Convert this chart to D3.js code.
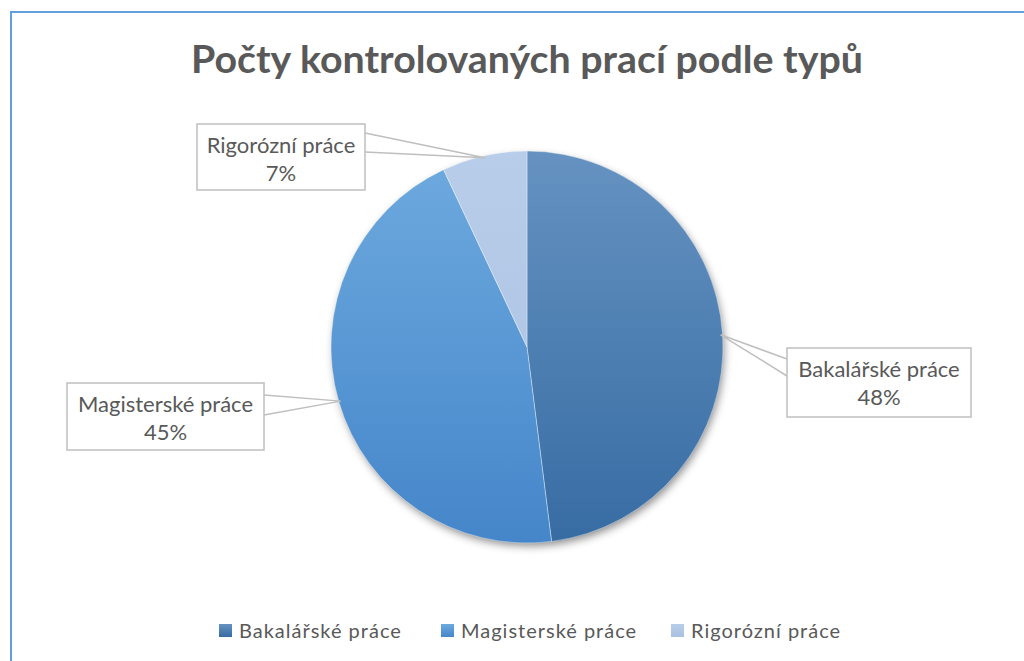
<!DOCTYPE html>
<html><head><meta charset="utf-8">
<script src="https://cdn.jsdelivr.net/npm/d3@7"></script>
<style>html,body{margin:0;padding:0;background:#fff;}svg{display:block;}</style>
</head><body>
<svg id="chart" width="1024" height="661"></svg>
<script>
const categories = ["Bakalářské práce", "Magisterské práce", "Rigorózní práce"];
const values = [48, 45, 7];
const colorsTop = ["#6592c1", "#6eaadf", "#b8cde9"];
const colorsBottom = ["#376ca3", "#4586ca", "#a9c1e2"];
const title = "Počty kontrolovaných prací podle typů";

const svg = d3.select("#chart");
const W = 1024, H = 661;
const defs = svg.append("defs");
svg.append("rect").attr("x", 0).attr("y", 0).attr("width", W).attr("height", H).attr("fill", "#fff");
svg.append("rect").attr("x", 11).attr("y", 12).attr("width", W + 10).attr("height", H + 10)
  .attr("fill", "none").attr("stroke", "#62a0db").attr("stroke-width", 2);

const font = "Lato, 'Open Sans', sans-serif";
svg.append("text").attr("x", 527).attr("y", 73).attr("text-anchor", "middle")
  .attr("font-family", font).attr("font-weight", "bold").attr("font-size", 38)
  .attr("textLength", 672).attr("lengthAdjust", "spacingAndGlyphs")
  .attr("fill", "#595959").text(title);

const cx = 527, cy = 347, R = 196;
const f = defs.append("filter").attr("id", "sh").attr("x", "-20%").attr("y", "-20%").attr("width", "140%").attr("height", "140%");
f.append("feDropShadow").attr("dx", 2).attr("dy", 4).attr("stdDeviation", 4).attr("flood-color", "#000").attr("flood-opacity", 0.45);

categories.forEach((c, i) => {
  const g = defs.append("linearGradient").attr("id", "g" + i).attr("gradientUnits", "userSpaceOnUse")
    .attr("x1", 0).attr("y1", -R).attr("x2", 0).attr("y2", R);
  g.append("stop").attr("offset", "0%").attr("stop-color", colorsTop[i]);
  g.append("stop").attr("offset", "100%").attr("stop-color", colorsBottom[i]);
  const lgd = defs.append("linearGradient").attr("id", "lg" + i).attr("x1", 0).attr("y1", 0).attr("x2", 0).attr("y2", 1);
  lgd.append("stop").attr("offset", "0%").attr("stop-color", colorsTop[i]);
  lgd.append("stop").attr("offset", "100%").attr("stop-color", colorsBottom[i]);
});

const pie = d3.pie().sort(null).value(d => d)(values);
const arc = d3.arc().innerRadius(0).outerRadius(R);
const pg = svg.append("g").attr("transform", `translate(${cx},${cy})`);
pg.append("circle").attr("r", R - 1).attr("fill", "#fff").attr("filter", "url(#sh)");
pg.selectAll("path").data(pie).join("path")
  .attr("d", arc).attr("fill", (d, i) => `url(#g${i})`)
  .attr("stroke", "rgba(255,255,255,0.45)").attr("stroke-width", 0.8);

// callout labels
const boxes = [
  {x: 787, y: 348, w: 184, h: 69, side: "left", a1: 359, a2: 376},
  {x: 67, y: 383, w: 197, h: 67, side: "right", a1: 395, a2: 415},
  {x: 197, y: 124, w: 168, h: 66, side: "right", a1: 133, a2: 152}
];
const lg = svg.append("g");
pie.forEach((d, i) => {
  const b = boxes[i];
  const ang = (d.startAngle + d.endAngle) / 2;
  const px = cx + Math.sin(ang) * (R - 2), py = cy - Math.cos(ang) * (R - 2);
  const ex = b.side === "left" ? b.x : b.x + b.w;
  lg.append("path").attr("d", `M${ex},${b.a1}L${px},${py}L${ex},${b.a2}`)
    .attr("fill", "#fff").attr("stroke", "#bfbfbf").attr("stroke-width", 1.5);
  lg.append("rect").attr("x", b.x).attr("y", b.y).attr("width", b.w).attr("height", b.h)
    .attr("fill", "#fff").attr("stroke", "#bfbfbf").attr("stroke-width", 1.5);
  const t = lg.append("text").attr("text-anchor", "middle").attr("font-family", font)
    .attr("font-size", 22).attr("fill", "#595959");
  t.append("tspan").attr("x", b.x + b.w / 2).attr("y", b.y + 29).text(categories[i]);
  t.append("tspan").attr("x", b.x + b.w / 2).attr("y", b.y + 57).text(Math.round(d.data / d3.sum(values) * 100) + "%");
});

// legend
const legX = [219, 441, 671];
const leg = svg.append("g");
categories.forEach((c, i) => {
  leg.append("rect").attr("x", legX[i]).attr("y", 624).attr("width", 13).attr("height", 13)
    .attr("fill", `url(#lg${i})`);
  leg.append("text").attr("x", legX[i] + 20).attr("y", 638).attr("font-family", font)
    .attr("font-size", 20).attr("fill", "#595959").attr("letter-spacing", 1).text(c);
});
</script>
</body></html>
